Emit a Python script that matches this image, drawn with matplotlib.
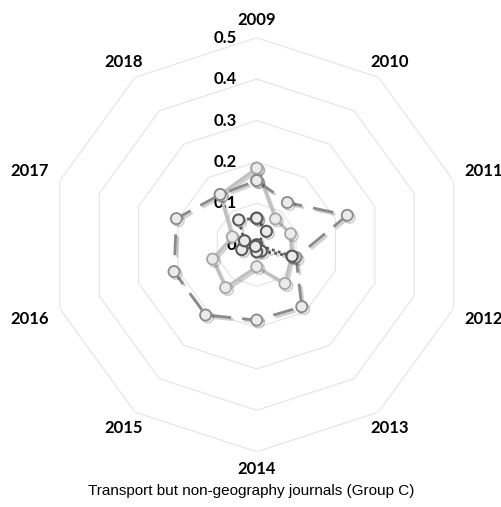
import numpy as np
import matplotlib
matplotlib.use("Agg")
import matplotlib.pyplot as plt
import matplotlib.patheffects as pe

years = ['2009', '2010', '2011', '2012', '2013', '2014', '2015', '2016', '2017', '2018']
series_dashed = [0.155, 0.126, 0.230, 0.100, 0.185, 0.182, 0.210, 0.210, 0.204, 0.150]
series_solid = [0.185, 0.077, 0.086, 0.088, 0.116, 0.053, 0.128, 0.112, 0.062, 0.150]
series_dotted = [0.064, 0.040, 0.000, 0.090, 0.019, 0.017, 0.005, 0.038, 0.031, 0.074]
rticks = [0, 0.1, 0.2, 0.3, 0.4, 0.5]
title = 'Transport but non-geography journals (Group C)'

W, H = 502, 507
fig = plt.figure(figsize=(W / 100, H / 100), dpi=100)
ax = fig.add_axes([0.099, 0.109, 0.8247, 0.8166], projection='polar')
ax.set_theta_zero_location('N')
ax.set_theta_direction(-1)
ax.set_ylim(0, 0.5)
ax.set_axis_off()

n = len(years)
angles = np.arange(n) * 2 * np.pi / n
ang_c = np.append(angles, angles[0])

# polygon grid
for r in rticks[1:]:
    ax.plot(ang_c, [r] * (n + 1), color='#e3e3e3', lw=0.8, zorder=1)

lab_font = dict(family=['Lato', 'DejaVu Sans'], weight='bold', size=12, color='black')

# radial tick labels
for v in rticks:
    ax.annotate(f'{v:g}', xy=(0, v), xytext=(-20, 0), textcoords='offset pixels',
                ha='right', va='center', **lab_font)

# category labels
hw, hh, gap = 20, 6.5, 11
for a, y in zip(angles, years):
    s, c = np.sin(a), np.cos(a)
    t = min(hw / abs(s) if abs(s) > 1e-6 else 1e9, hh / abs(c) if abs(c) > 1e-6 else 1e9)
    d = gap + t
    ax.annotate(y, xy=(a, 0.5), xytext=(d * s, d * c), textcoords='offset pixels',
                ha='center', va='center', **lab_font)

shadow = [pe.SimpleLineShadow(offset=(1.5, -1.5), shadow_color='black', alpha=0.18), pe.Normal()]

def close(v):
    return list(v) + [v[0]]

ax.plot(ang_c, close(series_solid), color='#c0c0c0', lw=2.2, solid_joinstyle='round',
        marker='o', ms=8, mfc='#ebebeb', mec='#a6a6a6', mew=1.3, zorder=3,
        path_effects=shadow)
ax.plot(ang_c, close(series_dashed), color='#8a8a8a', lw=2.0, dashes=(7.5, 4),
        marker='o', ms=8, mfc='#ebebeb', mec='#8a8a8a', mew=1.3, zorder=4,
        path_effects=shadow)
ax.plot(ang_c, close(series_dotted), color='#5a5a5a', lw=2.0, dashes=(1, 1.2),
        marker='o', ms=8, mfc='#ebebeb', mec='#5a5a5a', mew=1.5, zorder=5,
        path_effects=shadow)

fig.text(0.5, 1 - 491 / H, title, ha='center', va='center',
         family=['Liberation Sans', 'DejaVu Sans'], size=11, color='black')

fig.savefig('out.png', dpi=100, facecolor='white')
